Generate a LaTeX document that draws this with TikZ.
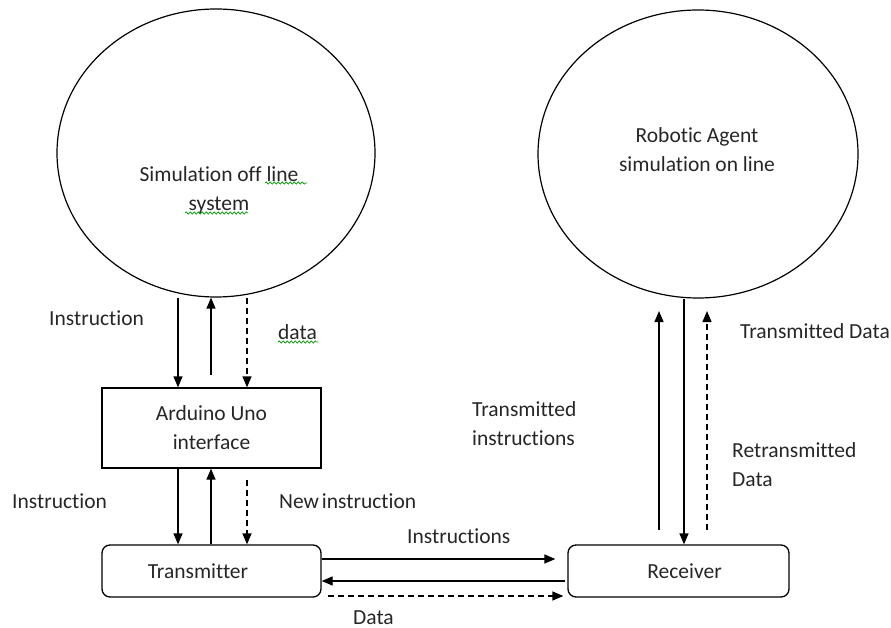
\documentclass[tikz,border=0pt]{standalone}
\usepackage{fontspec}
\setmainfont{Carlito}[Ligatures=NoCommon]
\usetikzlibrary{arrows.meta,shapes.geometric,decorations.pathmorphing}

\tikzset{
  every node/.style={font=\fontsize{21.5}{29}\selectfont, text=black!85},
  bubble/.style={draw, ellipse, line width=1.2pt, inner sep=0pt},
  unit/.style={draw, line width=1.3pt, inner sep=0pt},
  flow/.style={-{Triangle[length=11pt,width=9pt]}, line width=1.3pt},
  dataflow/.style={flow, dash pattern=on 6pt off 4pt},
  lbl/.style={anchor=base west, inner sep=0pt},
  squiggle/.style={draw=green!60!black, line width=0.7pt, decorate,
    decoration={snake, segment length=4pt, amplitude=1.2pt}}
}

\begin{document}
\begin{tikzpicture}[x=1pt,y=-1pt]
  \useasboundingbox (0,0) rectangle (891,628);

  \node[bubble, minimum width=318pt, minimum height=288pt] (offline) at (216,153) {};
  \node[bubble, minimum width=320pt, minimum height=288pt] (online) at (698,154) {};
  \node[align=center] (offtext) at (219,190) {Simulation off line\\system};
  \node[align=center] (ontext) at (697,150) {Robotic Agent\\simulation on line};

  \node[unit, minimum width=219pt, minimum height=80pt, align=center] (arduino) at (211.5,428) {Arduino Uno\\interface};
  \node[unit, rounded corners=8pt, minimum width=219pt, minimum height=52pt] (tx) at (211.5,571) {\hspace*{-27pt}Transmitter};
  \node[unit, rounded corners=8pt, minimum width=221pt, minimum height=52pt] (rx) at (678.5,571) {\hspace*{12pt}Receiver};

  % columns of the vertical arrows
  \coordinate (c1) at (178,0);
  \coordinate (c2) at (211,0);
  \coordinate (c3) at (247,0);
  \coordinate (c4) at (659,0);
  \coordinate (c5) at (684,0);
  \coordinate (c6) at (707,0);
  \coordinate (r1) at (0,559);
  \coordinate (r2) at (0,581);
  \coordinate (r3) at (0,596);
  \coordinate (upA) at (211,375);
  \coordinate (dashA) at (247,480);
  \coordinate (upB) at (659,530);
  \coordinate (dashB) at (707,530);
  \coordinate (topB) at (659,311);
  \coordinate (topC) at (707,311);
  \coordinate (dashC) at (328,596);

  % simulation <-> arduino
  \draw[flow] (offline.south -| c1) -- (arduino.north -| c1);
  \draw[flow] (upA) -- (offline.south -| c2);
  \draw[dataflow] (offline.south -| c3) -- (arduino.north -| c3);

  % arduino <-> transmitter
  \draw[flow] (arduino.south -| c1) -- (tx.north -| c1);
  \draw[flow] (tx.north -| c2) -- (arduino.south -| c2);
  \draw[dataflow] (dashA) -- (tx.north -| c3);

  % transmitter <-> receiver
  \draw[flow] (tx.east |- r1) -- ([xshift=-12pt]rx.west |- r1);
  \draw[flow] ([xshift=-2pt]rx.west |- r2) -- (tx.east |- r2);
  \draw[dataflow] (dashC) -- ([xshift=-4pt]rx.west |- r3);

  % receiver <-> online simulation
  \draw[flow] (upB) -- (topB);
  \draw[flow] (online.south -| c5) -- (rx.north -| c5);
  \draw[dataflow] (dashB) -- (topC);

  % labels
  \node[lbl] (l1) at (49,325) {Instruction};
  \node[lbl] (l2) at (278,339) {data};
  \node[lbl] (l3) at (12,508) {Instruction};
  \node[lbl] (l4) at (279,508) {New\hspace{-2pt} instruction};
  \node[lbl] (l5) at (407,543) {Instructions};
  \node[lbl] (l6) at (353,624) {Data};
  \node[lbl] (l7) at (740,338) {Transmitted Data};
  \node[lbl, align=left, anchor=west] (l8) at (472,424) {Transmitted\\instructions};
  \node[lbl, align=left, anchor=west] (l9) at (732,465) {Retransmitted\\Data};

  % spelling marks
  \draw[squiggle] (265,183) -- (307,183);
  \draw[squiggle] (185,213) -- (248,213);
  \draw[squiggle] (278,342) -- (318,342);
\end{tikzpicture}
\end{document}
